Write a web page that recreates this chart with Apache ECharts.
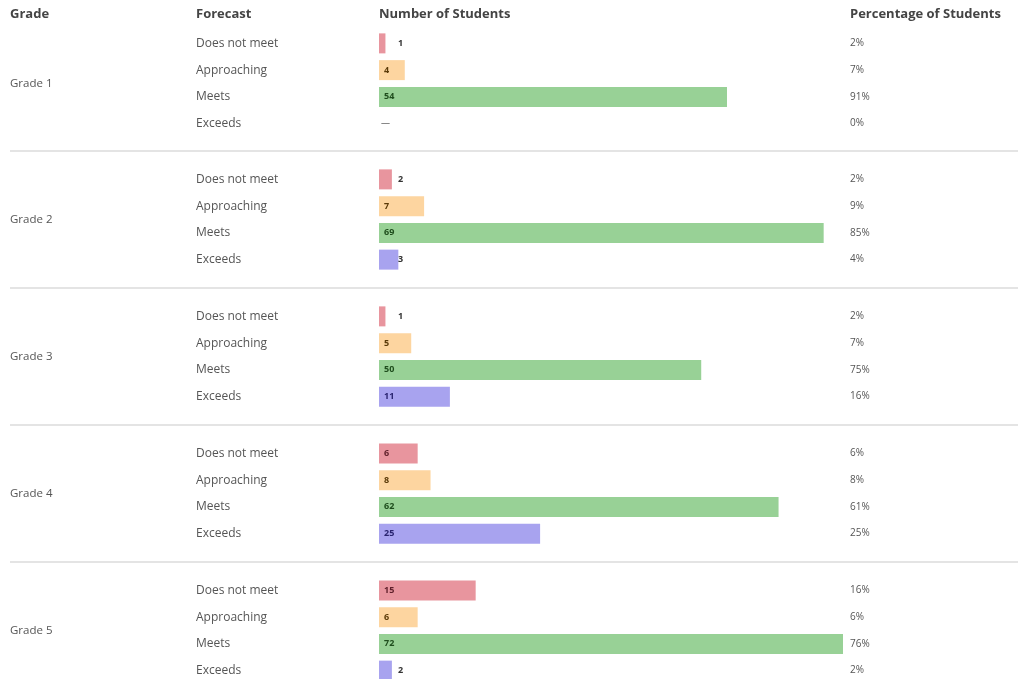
<!DOCTYPE html>
<html>
<head>
<meta charset="utf-8">
<script src="https://cdn.jsdelivr.net/npm/echarts@6/dist/echarts.min.js"></script>
<style>
  html, body { margin: 0; padding: 0; background: #fff; }
  #chart { width: 1018px; height: 679px; }
</style>
</head>
<body>
<div id="chart"></div>
<script>
const grades = ['Grade 1', 'Grade 2', 'Grade 3', 'Grade 4', 'Grade 5']
const forecasts = ['Does not meet', 'Approaching', 'Meets', 'Exceeds']
// students per grade, in forecast order
const doesNotMeet = [1, 2, 1, 6, 15]
const approaching = [4, 7, 5, 8, 6]
const meets = [54, 69, 50, 62, 72]
const exceeds = [0, 3, 11, 25, 2]
const percentLabels = [
  ['2%', '7%', '91%', '0%'],
  ['2%', '9%', '85%', '4%'],
  ['2%', '7%', '75%', '16%'],
  ['6%', '8%', '61%', '25%'],
  ['16%', '6%', '76%', '2%']
]
const headers = ['Grade', 'Forecast', 'Number of Students', 'Percentage of Students']

const barColors = ['#e8959e', '#fdd5a0', '#98d196', '#a8a3ef']
const textColors = ['#5e1f2a', '#5a3a08', '#1f4d1d', '#2a2470']
const font = '"Open Sans", "Noto Sans", sans-serif'

const groupTops = [30, 166, 303, 440, 577]
const rowBlock = 107

const myChart = echarts.init(document.getElementById('chart'))

const grid = [], xAxis = [], yAxis = [], series = [], title = []

headers.forEach((h, i) => {
  title.push({
    text: h,
    left: [10, 196, 379, 850][i],
    top: 8,
    padding: 0,
    textStyle: { fontFamily: font, fontSize: 13, fontWeight: 'bold', color: '#444' }
  })
})

grades.forEach((g, gi) => {
  const values = [doesNotMeet[gi], approaching[gi], meets[gi], exceeds[gi]]
  grid.push({ left: 379, width: 464, top: groupTops[gi], height: rowBlock, outerBoundsMode: 'none' })
  xAxis.push({
    gridIndex: gi, type: 'value', min: 0, max: 72, show: false
  })
  yAxis.push({
    gridIndex: gi, type: 'category', data: forecasts, inverse: true,
    axisLine: { show: false }, axisTick: { show: false },
    axisLabel: { align: 'left', margin: 183, fontFamily: font, fontSize: 12, color: '#555' }
  })
  yAxis.push({
    gridIndex: gi, type: 'category', data: percentLabels[gi], inverse: true, position: 'right',
    axisLine: { show: false }, axisTick: { show: false },
    axisLabel: { align: 'left', margin: 7, fontFamily: font, fontSize: 10, color: '#555' }
  })
  series.push({
    type: 'bar',
    xAxisIndex: gi,
    yAxisIndex: gi * 2,
    barWidth: 20,
    silent: true,
    data: values.map((v, k) => ({
      value: v,
      itemStyle: { color: barColors[k] },
      // small counts sit just right of the bar, zero shows a dash
      label: v < 4
        ? { position: 'insideLeft', distance: v === 0 ? 2 : 19, color: v === 0 ? '#888' : '#333' }
        : { position: 'insideLeft', distance: 5, color: textColors[k] }
    })),
    label: {
      show: true,
      fontFamily: font,
      fontSize: 9,
      fontWeight: 'bold',
      formatter: p => (p.value === 0 ? '—' : p.value)
    }
  })
  title.push({
    text: g,
    left: 10,
    top: groupTops[gi] + rowBlock / 2 - 6,
    padding: 0,
    textStyle: { fontFamily: font, fontSize: 11.5, fontWeight: 'normal', color: '#555' }
  })
})

const separators = [151, 288, 425, 562].map(y => ({
  type: 'line',
  shape: { x1: 10, y1: y, x2: 1018, y2: y },
  style: { stroke: '#e4e4e4', lineWidth: 2 }
}))

myChart.setOption({
  backgroundColor: '#fff',
  animation: false,
  title,
  grid,
  xAxis,
  yAxis,
  series,
  graphic: separators
})
</script>
</body>
</html>
